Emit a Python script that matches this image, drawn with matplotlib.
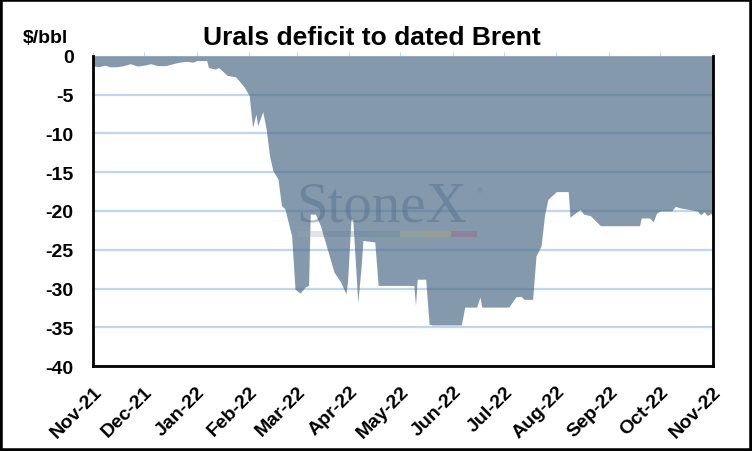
import pandas as pd
import matplotlib
matplotlib.use('Agg')
import matplotlib.pyplot as plt
import matplotlib.dates as mdates
from matplotlib.patches import Rectangle

# Urals discount to dated Brent, $/bbl
dates = [
    '2021-11-01', '2021-11-04', '2021-11-08', '2021-11-11', '2021-11-15', '2021-11-19',
    '2021-11-23', '2021-11-27', '2021-12-01', '2021-12-05', '2021-12-09', '2021-12-14',
    '2021-12-18', '2021-12-22', '2021-12-26', '2021-12-30', '2022-01-01', '2022-01-07',
    '2022-01-08', '2022-01-12', '2022-01-14', '2022-01-17', '2022-01-19', '2022-01-24',
    '2022-01-26', '2022-01-29', '2022-02-01', '2022-02-03', '2022-02-05', '2022-02-06',
    '2022-02-09', '2022-02-11', '2022-02-13', '2022-02-15', '2022-02-18', '2022-02-20',
    '2022-02-22', '2022-02-26', '2022-02-27', '2022-02-28', '2022-03-03', '2022-03-06',
    '2022-03-08', '2022-03-09', '2022-03-12', '2022-03-15', '2022-03-19', '2022-03-23',
    '2022-03-27', '2022-03-30', '2022-03-31', '2022-04-02', '2022-04-03', '2022-04-06',
    '2022-04-08', '2022-04-09', '2022-04-16', '2022-04-18', '2022-05-09', '2022-05-10',
    '2022-05-11', '2022-05-16', '2022-05-18', '2022-05-20', '2022-06-06', '2022-06-08',
    '2022-06-15', '2022-06-17', '2022-06-18', '2022-07-04', '2022-07-08', '2022-07-11',
    '2022-07-13', '2022-07-18', '2022-07-20', '2022-07-23', '2022-07-25', '2022-07-27',
    '2022-08-01', '2022-08-08', '2022-08-09', '2022-08-15', '2022-08-17', '2022-08-21',
    '2022-08-27', '2022-09-19', '2022-09-20', '2022-09-25', '2022-09-27', '2022-09-29',
    '2022-10-01', '2022-10-08', '2022-10-10', '2022-10-13', '2022-10-23', '2022-10-25',
    '2022-10-27', '2022-10-29', '2022-10-31', '2022-11-01',
]
values = [
    -1.25, -1.4, -1.2, -1.4, -1.4, -1.25,
    -1.0, -1.3, -1.2, -1.0, -1.25, -1.25,
    -1.0, -0.8, -0.7, -0.8, -0.6, -0.6,
    -1.5, -1.7, -1.5, -2.1, -2.5, -2.7,
    -3.2, -4.0, -5.1, -9.2, -7.5, -9.0,
    -7.2, -9.4, -12.9, -14.8, -15.9, -19.3,
    -19.7, -23.2, -26.6, -30.1, -30.6, -29.8,
    -29.6, -20.4, -20.4, -21.9, -24.9, -27.9,
    -29.2, -30.7, -29.0, -21.0, -21.0, -31.8,
    -27.1, -23.8, -24.0, -29.6, -29.6, -32.2,
    -28.8, -28.8, -34.6, -34.7, -34.7, -32.4,
    -32.4, -31.1, -32.4, -32.4, -31.1, -31.0,
    -31.4, -31.4, -25.8, -24.5, -20.6, -18.5,
    -17.5, -17.5, -20.8, -19.8, -20.4, -20.6,
    -21.9, -21.9, -20.9, -20.9, -21.4, -20.3,
    -20.0, -20.0, -19.4, -19.6, -20.0, -20.5,
    -20.1, -20.6, -20.3, -20.8,
]
y_ticks = [0, -5, -10, -15, -20, -25, -30, -35, -40]

x = pd.to_datetime(dates)

plt.rcParams['font.family'] = ['Liberation Sans', 'DejaVu Sans']

fig = plt.figure(figsize=(7.52, 4.52), dpi=100)
ax = fig.add_axes([0.1237, 0.188, 0.8238, 0.686])

ax.fill_between(x, values, 0, color='#4a6784', alpha=0.67, lw=0, zorder=2)

ax.set_xlim(pd.Timestamp('2021-11-01'), pd.Timestamp('2022-11-01'))
ax.set_ylim(-40, 0)
ax.set_yticks(y_ticks)
ax.set_yticklabels([str(t) for t in y_ticks], fontsize=14, fontweight='bold')
ax.yaxis.grid(True, color='#bdd7ee', lw=1.6)
ax.set_axisbelow(True)
ax.tick_params(axis='y', length=0, pad=14)

ax.xaxis.set_major_locator(mdates.MonthLocator())
ax.xaxis.set_major_formatter(mdates.DateFormatter('%b-%y'))
ax.tick_params(axis='x', top=True, bottom=False, direction='out', length=3,
               color='#bdd7ee', labelbottom=True, pad=9)
for lab in ax.get_xticklabels():
    lab.set_rotation(45)
    lab.set_ha('right')
    lab.set_va('top')
    lab.set_rotation_mode('anchor')
    lab.set_fontsize(14)
    lab.set_fontweight('bold')

for side in ['left', 'bottom', 'right']:
    ax.spines[side].set_linewidth(2)
    ax.spines[side].set_color('black')
ax.spines['top'].set_visible(False)

fig.text(0.494, 0.915, 'Urals deficit to dated Brent', ha='center', va='center',
         fontsize=19, fontweight='bold')
fig.text(0.061, 0.915, '$/bbl', ha='center', va='center', fontsize=14, fontweight='bold')

# StoneX watermark
fig.text(0.394, 0.509, 'StoneX', family='Liberation Serif', fontsize=41,
         color='#4a6a8a', alpha=0.42, ha='left', va='baseline', zorder=5)
fig.text(0.634, 0.573, '®', family='Liberation Serif', fontsize=6,
         color='#4a6a8a', alpha=0.4, zorder=5)
bar_cols = ['#9aa5b1', '#5f7d9c', '#5f7d9c', '#5d8a80', '#a8b070', '#c0a860', '#a05068']
seg_w = (477 - 297) / 7 / 752
for i, c in enumerate(bar_cols):
    fig.patches.append(Rectangle((297 / 752 + i * seg_w, 1 - 238.3 / 452), seg_w, 6.6 / 452,
                                 transform=fig.transFigure, color=c, alpha=0.3, lw=0, zorder=5))

fig.patches.append(Rectangle((0, 0), 1, 1, transform=fig.transFigure, fill=False,
                             ec='black', lw=4, zorder=10))

fig.savefig('out.png', dpi=100)
